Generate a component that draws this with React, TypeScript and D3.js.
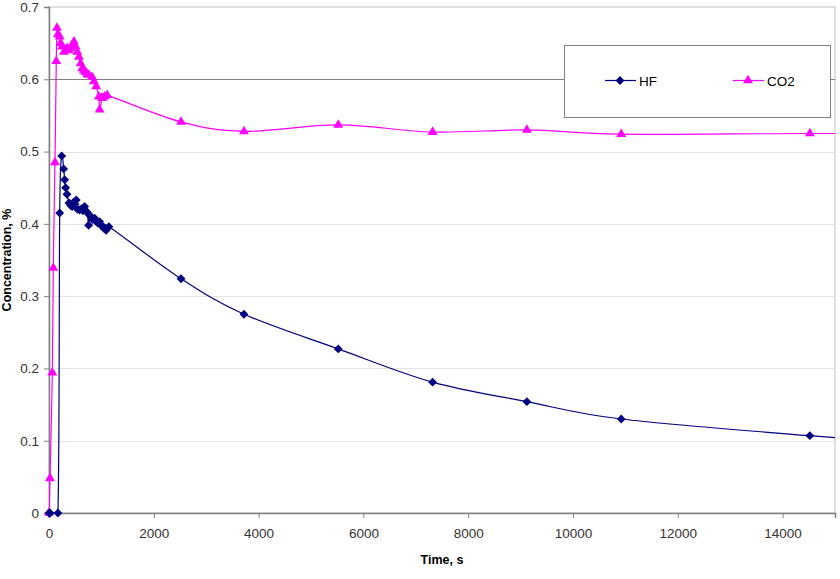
import React, { useEffect, useRef } from 'react'
import * as d3 from 'd3'

// time in seconds, concentration in %
const hfTime = [0, 20, 170, 204, 242, 280, 299, 318, 343, 381, 400, 419, 444, 470, 500, 520, 545, 585, 620, 650, 680, 700, 730, 756, 775, 800, 830, 870, 900, 930, 966, 990, 1029, 1060, 1091, 1143, 2520, 3720, 5520, 7320, 9120, 10920, 14520, 18120]
const hfValue = [0, 0, 0, 0.415, 0.494, 0.476, 0.461, 0.45, 0.441, 0.429, 0.428, 0.425, 0.424, 0.43, 0.427, 0.433, 0.42, 0.419, 0.421, 0.418, 0.424, 0.418, 0.416, 0.398, 0.412, 0.41, 0.406, 0.408, 0.404, 0.401, 0.403, 0.398, 0.396, 0.393, 0.391, 0.396, 0.324, 0.275, 0.227, 0.181, 0.154, 0.13, 0.107, 0.088]

const co2Time = [0, 19, 63, 82, 114, 139, 152, 170, 204, 223, 250, 286, 320, 349, 380, 413, 445, 476, 509, 539, 571, 604, 634, 665, 699, 730, 762, 825, 857, 901, 952, 966, 1015, 1060, 1110, 2520, 3720, 5520, 7320, 9120, 10920, 14520, 18120]
const co2Value = [0, 0.048, 0.194, 0.339, 0.485, 0.625, 0.671, 0.662, 0.659, 0.65, 0.645, 0.638, 0.641, 0.643, 0.64, 0.643, 0.648, 0.652, 0.645, 0.638, 0.631, 0.622, 0.615, 0.612, 0.61, 0.607, 0.606, 0.603, 0.597, 0.59, 0.576, 0.558, 0.574, 0.576, 0.578, 0.541, 0.528, 0.537, 0.527, 0.53, 0.524, 0.525, 0.525]

const xTicks = [0, 2000, 4000, 6000, 8000, 10000, 12000, 14000]
const yTicks = [0, 0.1, 0.2, 0.3, 0.4, 0.5, 0.6, 0.7]

const width = 840
const height = 579
const margin = { top: 7, right: 5, bottom: 66, left: 49 }

const font = 'Liberation Sans, Arial, Helvetica, sans-serif'

const App = () => {
  const ref = useRef<SVGSVGElement>(null)

  useEffect(() => {
    const svg = d3.select(ref.current)
    svg.selectAll('*').remove()

    const x = d3.scaleLinear().domain([0, 15000]).range([margin.left, width - margin.right])
    const y = d3.scaleLinear().domain([0, 0.7]).range([height - margin.bottom, margin.top])

    svg.append('defs').append('clipPath').attr('id', 'plot-clip')
      .append('rect')
        .attr('x', margin.left).attr('y', margin.top)
        .attr('width', width - margin.right - margin.left)
        .attr('height', height - margin.bottom - margin.top)

    // plot frame
    svg.append('rect')
      .attr('x', margin.left).attr('y', margin.top)
      .attr('width', width - margin.right - margin.left)
      .attr('height', height - margin.bottom - margin.top)
      .attr('fill', '#fff')
      .attr('stroke', '#c0c0c0')

    // gridlines (0.6 is drawn dark in the original)
    svg.selectAll('.grid')
      .data(yTicks.filter(t => t > 0 && t < 0.7)).enter()
      .append('line')
        .attr('class', 'grid')
        .attr('x1', margin.left).attr('x2', width - margin.right)
        .attr('y1', d => Math.round(y(d)) + 0.5).attr('y2', d => Math.round(y(d)) + 0.5)
        .attr('stroke', d => (Math.abs(d - 0.6) < 1e-6 ? '#808080' : '#e4e4e4'))

    // axes
    const xAxis = svg.append('g')
      .attr('transform', `translate(0,${height - margin.bottom})`)
      .call(d3.axisBottom(x).tickValues(xTicks).tickSize(5).tickPadding(10).tickFormat(d3.format('d')))
    const yAxis = svg.append('g')
      .attr('transform', `translate(${margin.left},0)`)
      .call(d3.axisLeft(y).tickValues(yTicks).tickSize(5).tickPadding(5).tickFormat(d => (d === 0 ? '0' : d3.format('.1f')(d as number))))
    for (const g of [xAxis, yAxis]) {
      g.select('.domain').attr('stroke', '#808080').attr('stroke-width', 1.5)
      g.selectAll('.tick line').attr('stroke', '#808080')
      g.selectAll('.tick text').attr('fill', '#333').attr('font-size', 13.5).attr('font-family', font)
    }

    const plot = svg.append('g').attr('clip-path', 'url(#plot-clip)')
    const marks = svg.append('g')

    const series = [
      { name: 'HF', time: hfTime, value: hfValue, color: '#000080', symbol: d3.symbolDiamond2, size: 50 },
      { name: 'CO2', time: co2Time, value: co2Value, color: '#ff00ff', symbol: d3.symbolTriangle, size: 42 }
    ]

    // CO2 markers underneath, HF markers on top (as at the baseline of the original)
    ;[...series].reverse().forEach(s => {
      const pts = s.time.map((t, i) => [t, s.value[i]] as [number, number])
      const line = d3.line<[number, number]>()
        .x(d => x(d[0]))
        .y(d => y(d[1]))
        .curve(d3.curveCatmullRom.alpha(0))
      plot.append('path')
        .datum(pts)
        .attr('d', line)
        .attr('fill', 'none')
        .attr('stroke', s.color)
        .attr('stroke-width', 1.2)
      marks.selectAll(`.pt-${s.name}`)
        .data(pts.filter(d => d[0] <= x.domain()[1])).enter()
        .append('path')
          .attr('class', `pt-${s.name}`)
          .attr('transform', d => `translate(${x(d[0])},${y(d[1])})`)
          .attr('d', d3.symbol().type(s.symbol).size(s.size)())
          .attr('fill', s.color)
    })

    // legend
    const legend = svg.append('g')
    legend.append('rect')
      .attr('x', 564.5).attr('y', 45.5).attr('width', 266).attr('height', 72)
      .attr('fill', '#fff').attr('stroke', '#808080')
    series.forEach((s, i) => {
      const lx = i === 0 ? 605 : 733
      const ly = 80.5
      legend.append('line')
        .attr('x1', lx).attr('x2', lx + 31).attr('y1', ly).attr('y2', ly)
        .attr('stroke', s.color).attr('stroke-width', 1.2)
      legend.append('path')
        .attr('transform', `translate(${lx + 15},${ly})`)
        .attr('d', d3.symbol().type(s.symbol).size(s.size)())
        .attr('fill', s.color)
      legend.append('text')
        .attr('x', lx + 34).attr('y', ly + 5)
        .attr('font-size', 13.5).attr('font-family', font).attr('fill', '#000')
        .text(s.name)
    })

    // axis titles
    svg.append('text')
      .attr('x', (margin.left + width - margin.right) / 2).attr('y', 564)
      .attr('text-anchor', 'middle')
      .attr('font-size', 12.5).attr('font-weight', 'bold').attr('font-family', font)
      .text('Time, s')
    svg.append('text')
      .attr('transform', `translate(11,${(margin.top + height - margin.bottom) / 2}) rotate(-90)`)
      .attr('text-anchor', 'middle')
      .attr('font-size', 12.5).attr('font-weight', 'bold').attr('font-family', font)
      .text('Concentration, %')
  }, [])

  return (
    <svg
      ref={ref}
      width={width}
      height={height}
      style={{ position: 'absolute', left: 0, top: 0, background: '#fff' }}
    />
  )
}

export default App
